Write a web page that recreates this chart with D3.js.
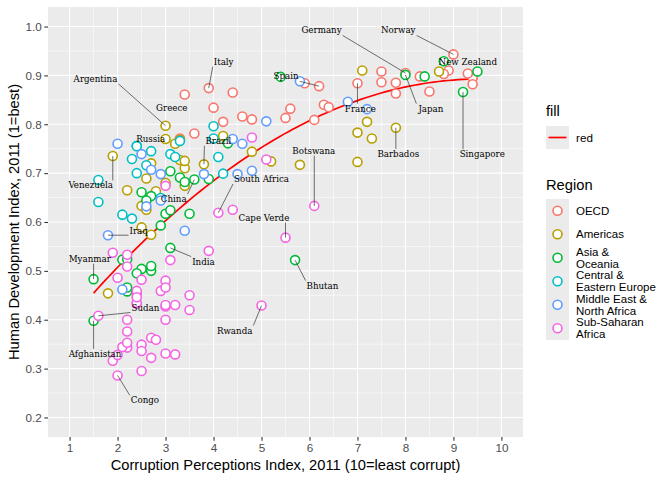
<!DOCTYPE html>
<html>
<head>
<meta charset="utf-8">
<script src="https://cdn.jsdelivr.net/npm/d3@7"></script>
<style>
  body { margin: 0; background: #fff; }
  text { font-family: "Liberation Sans", Arial, sans-serif; }
</style>
</head>
<body>
<div id="chart"></div>
<script>
// [country, CPI 2011, HDI 2011] per region
const oecd = [
  ["Austria", 7.8, 0.885], ["Belgium", 7.5, 0.886], ["Britain", 7.8, 0.863], ["Bulgaria", 3.3, 0.771],
  ["Cyprus", 6.3, 0.840], ["Czech Republic", 4.4, 0.865], ["Denmark", 9.4, 0.895], ["Estonia", 6.4, 0.835],
  ["Finland", 9.4, 0.882], ["France", 7.0, 0.884], ["Germany", 8.0, 0.905], ["Greece", 3.4, 0.861],
  ["Hungary", 4.6, 0.816], ["Iceland", 8.3, 0.898], ["Ireland", 7.5, 0.908], ["Italy", 3.9, 0.874],
  ["Latvia", 4.2, 0.805], ["Lithuania", 4.8, 0.810], ["Luxembourg", 8.5, 0.867], ["Malta", 5.6, 0.832],
  ["Netherlands", 8.9, 0.910], ["Norway", 9.0, 0.943], ["Poland", 5.5, 0.813], ["Portugal", 6.1, 0.809],
  ["Romania", 3.6, 0.781], ["Slovakia", 4.0, 0.834], ["Slovenia", 5.9, 0.884], ["Spain", 6.2, 0.878],
  ["Sweden", 9.3, 0.904], ["Switzerland", 8.8, 0.903]
];
const americas = [
  ["Argentina", 3.0, 0.797], ["Bahamas", 7.3, 0.771], ["Barbados", 7.8, 0.793], ["Bolivia", 2.8, 0.663],
  ["Brazil", 3.8, 0.718], ["Canada", 8.7, 0.908], ["Chile", 7.2, 0.805], ["Colombia", 3.4, 0.710],
  ["Costa Rica", 4.8, 0.744], ["Cuba", 4.2, 0.776], ["Dominica", 5.2, 0.724], ["Dominican Republic", 2.6, 0.689],
  ["Ecuador", 2.7, 0.720], ["El Salvador", 3.4, 0.674], ["Guatemala", 2.7, 0.574], ["Guyana", 2.5, 0.633],
  ["Haiti", 1.8, 0.454], ["Honduras", 2.6, 0.625], ["Jamaica", 3.3, 0.727], ["Mexico", 3.0, 0.770],
  ["Nicaragua", 2.5, 0.589], ["Panama", 3.3, 0.768], ["Paraguay", 2.2, 0.665], ["Peru", 3.4, 0.725],
  ["Saint Lucia", 7.0, 0.723], ["Saint Vincent", 5.8, 0.717], ["Suriname", 3.0, 0.680],
  ["Trinidad and Tobago", 3.2, 0.760], ["United States", 7.1, 0.910], ["Uruguay", 7.0, 0.783],
  ["Venezuela", 1.9, 0.735]
];
const asiaOceania = [
  ["Afghanistan", 1.5, 0.398], ["Australia", 8.8, 0.929], ["Bangladesh", 2.7, 0.500], ["Bhutan", 5.7, 0.522],
  ["Cambodia", 2.1, 0.523], ["China", 3.6, 0.687], ["Hong Kong", 8.4, 0.898], ["India", 3.1, 0.547],
  ["Indonesia", 3.0, 0.617], ["Japan", 8.0, 0.901], ["Kiribati", 3.1, 0.624], ["Laos", 2.2, 0.524],
  ["Malaysia", 4.3, 0.761], ["Maldives", 2.5, 0.661], ["Mongolia", 2.7, 0.653], ["Myanmar", 1.5, 0.483],
  ["Nepal", 2.2, 0.458], ["New Zealand", 9.5, 0.908], ["Pakistan", 2.5, 0.504], ["Papua New Guinea", 2.2, 0.466],
  ["Philippines", 2.6, 0.644], ["Samoa", 3.9, 0.688], ["Singapore", 9.2, 0.866], ["Solomon Islands", 2.7, 0.510],
  ["South Korea", 5.4, 0.897], ["Sri Lanka", 3.3, 0.691], ["Thailand", 3.4, 0.682], ["Timor-Leste", 2.4, 0.495],
  ["Tonga", 3.1, 0.704], ["Vanuatu", 3.5, 0.617], ["Vietnam", 2.9, 0.593]
];
const centralEastEurope = [
  ["Albania", 3.1, 0.739], ["Armenia", 2.6, 0.716], ["Azerbaijan", 2.4, 0.700], ["Belarus", 2.4, 0.756],
  ["Bosnia and Herzegovina", 3.2, 0.733], ["Croatia", 4.0, 0.796], ["Georgia", 4.1, 0.733], ["Kazakhstan", 2.7, 0.745],
  ["Kyrgyzstan", 2.1, 0.615], ["Moldova", 2.9, 0.649], ["Montenegro", 4.0, 0.771], ["Russia", 2.4, 0.755],
  ["Serbia", 3.3, 0.766], ["Tajikistan", 2.3, 0.607], ["Turkey", 4.2, 0.699], ["Turkmenistan", 1.6, 0.686],
  ["Ukraine", 2.3, 0.729], ["Uzbekistan", 1.6, 0.641]
];
const middleEastNorthAfrica = [
  ["Algeria", 2.9, 0.698], ["Bahrain", 5.1, 0.806], ["Egypt", 2.9, 0.644], ["Iran", 2.7, 0.707],
  ["Iraq", 1.8, 0.573], ["Israel", 5.8, 0.888], ["Jordan", 4.5, 0.698], ["Kuwait", 4.6, 0.760],
  ["Lebanon", 2.5, 0.739], ["Libya", 2.0, 0.760], ["Morocco", 3.4, 0.582], ["Oman", 4.8, 0.705],
  ["Qatar", 7.2, 0.831], ["Saudi Arabia", 4.4, 0.770], ["Syria", 2.6, 0.632], ["Tunisia", 3.8, 0.698],
  ["United Arab Emirates", 6.8, 0.846], ["Yemen", 2.1, 0.462]
];
const subSaharanAfrica = [
  ["Angola", 2.0, 0.486], ["Benin", 3.0, 0.427], ["Botswana", 6.1, 0.633], ["Burkina Faso", 3.0, 0.331],
  ["Burundi", 1.9, 0.316], ["Cameroon", 2.5, 0.482], ["Cape Verde", 5.5, 0.568], ["Central African Republic", 2.2, 0.343],
  ["Chad", 2.0, 0.328], ["Comoros", 2.4, 0.433], ["Republic of Congo", 2.2, 0.533], ["Cote d'Ivoire", 2.2, 0.400],
  ["Congo", 2.0, 0.286], ["Djibouti", 3.0, 0.430], ["Equatorial Guinea", 1.9, 0.537], ["Eritrea", 2.5, 0.349],
  ["Ethiopia", 2.7, 0.363], ["Gabon", 3.0, 0.674], ["Gambia", 3.5, 0.420], ["Ghana", 3.9, 0.541],
  ["Guinea", 2.1, 0.344], ["Guinea-Bissau", 2.2, 0.353], ["Kenya", 2.2, 0.509], ["Lesotho", 3.5, 0.450],
  ["Liberia", 3.2, 0.329], ["Madagascar", 3.0, 0.480], ["Malawi", 3.0, 0.400], ["Mali", 2.8, 0.359],
  ["Mauritania", 2.4, 0.453], ["Mauritius", 5.1, 0.728], ["Mozambique", 2.7, 0.322], ["Namibia", 4.4, 0.625],
  ["Niger", 2.5, 0.295], ["Nigeria", 2.4, 0.459], ["Rwanda", 5.0, 0.429], ["Senegal", 2.9, 0.459],
  ["Seychelles", 4.8, 0.773], ["Sierra Leone", 2.5, 0.336], ["South Africa", 4.1, 0.619], ["Sudan", 1.6, 0.408],
  ["Swaziland", 3.1, 0.522], ["Tanzania", 3.0, 0.466], ["Togo", 2.4, 0.435], ["Uganda", 2.4, 0.446],
  ["Zambia", 3.2, 0.430], ["Zimbabwe", 2.2, 0.376]
];

const regionNames = ["OECD", "Americas", "Asia &\nOceania", "Central &\nEastern Europe",
                     "Middle East &\nNorth Africa", "Sub-Saharan\nAfrica"];
const regionColors = ["#F8766D", "#B79F00", "#00BA38", "#00BFC4", "#619CFF", "#F564E3"];

// labelled countries and where ggrepel put the label (data units)
const labelled = ["Argentina", "Greece", "Italy", "Russia", "Brazil", "Venezuela", "China", "South Africa",
  "Cape Verde", "Iraq", "India", "Myanmar", "Sudan", "Afghanistan", "Congo", "Rwanda", "Bhutan",
  "Botswana", "Spain", "Germany", "Norway", "New Zealand", "Japan", "France", "Barbados", "Singapore"];
const labelCpi = [1.54, 3.13, 4.21, 2.69, 4.10, 1.44, 3.17, 5.00, 5.05, 2.44, 3.79, 1.42, 2.58, 1.53,
  2.57, 4.44, 6.27, 6.09, 5.51, 6.25, 7.85, 9.30, 8.53, 7.06, 7.85, 9.60];
const labelHdi = [0.893, 0.834, 0.928, 0.770, 0.766, 0.675, 0.647, 0.688, 0.609, 0.581, 0.519, 0.525,
  0.425, 0.330, 0.235, 0.378, 0.470, 0.746, 0.898, 0.992, 0.992, 0.927, 0.832, 0.832, 0.739, 0.739];

const xTicks = [1, 2, 3, 4, 5, 6, 7, 8, 9, 10];
const yTicks = [0.2, 0.3, 0.4, 0.5, 0.6, 0.7, 0.8, 0.9, 1.0];

const W = 672, H = 480;
const panel = { left: 48, right: 523, top: 7, bottom: 437 };

const svg = d3.select("#chart").append("svg")
  .attr("width", W).attr("height", H);

const x = d3.scaleLinear().domain([0.55, 10.45]).range([panel.left, panel.right]);
const y = d3.scaleLinear().domain([0.16, 1.04]).range([panel.bottom, panel.top]);

// panel + grid
svg.append("rect")
  .attr("x", panel.left).attr("y", panel.top)
  .attr("width", panel.right - panel.left).attr("height", panel.bottom - panel.top)
  .attr("fill", "#EBEBEB");

const xMinor = xTicks.slice(0, -1).map(d => d + 0.5);
const yMinor = yTicks.slice(0, -1).map(d => d + 0.05);
const grid = svg.append("g");
grid.selectAll(".xm").data(xMinor).enter().append("line")
  .attr("x1", d => x(d)).attr("x2", d => x(d)).attr("y1", panel.top).attr("y2", panel.bottom)
  .attr("stroke", "#fff").attr("stroke-width", 0.55);
grid.selectAll(".ym").data(yMinor).enter().append("line")
  .attr("y1", d => y(d)).attr("y2", d => y(d)).attr("x1", panel.left).attr("x2", panel.right)
  .attr("stroke", "#fff").attr("stroke-width", 0.55);
grid.selectAll(".xM").data(xTicks).enter().append("line")
  .attr("x1", d => x(d)).attr("x2", d => x(d)).attr("y1", panel.top).attr("y2", panel.bottom)
  .attr("stroke", "#fff").attr("stroke-width", 1.1);
grid.selectAll(".yM").data(yTicks).enter().append("line")
  .attr("y1", d => y(d)).attr("y2", d => y(d)).attr("x1", panel.left).attr("x2", panel.right)
  .attr("stroke", "#fff").attr("stroke-width", 1.1);

// axes
const xAxis = svg.append("g")
  .attr("transform", `translate(0,${panel.bottom})`)
  .call(d3.axisBottom(x).tickValues(xTicks).tickFormat(d3.format("d")).tickSize(3.7).tickPadding(2.5));
const yAxis = svg.append("g")
  .attr("transform", `translate(${panel.left},0)`)
  .call(d3.axisLeft(y).tickValues(yTicks).tickFormat(d3.format(".1f")).tickSize(3.7).tickPadding(2.5));
[xAxis, yAxis].forEach(a => {
  a.select(".domain").remove();
  a.selectAll(".tick line").attr("stroke", "#333333").attr("stroke-width", 1.07);
  a.selectAll(".tick text").attr("fill", "#4D4D4D").style("font-size", "11.7px")
    .style("font-family", "'Liberation Sans', Arial, sans-serif");
});

svg.append("text")
  .attr("x", (panel.left + panel.right) / 2).attr("y", 470)
  .attr("text-anchor", "middle").style("font-size", "14.7px").attr("fill", "#000")
  .text("Corruption Perceptions Index, 2011 (10=least corrupt)");
svg.append("text")
  .attr("transform", `translate(19,${(panel.top + panel.bottom) / 2}) rotate(-90)`)
  .attr("text-anchor", "middle").style("font-size", "14.7px").attr("fill", "#000")
  .text("Human Development Index, 2011 (1=best)");

// all points
const regions = [oecd, americas, asiaOceania, centralEastEurope, middleEastNorthAfrica, subSaharanAfrica];
const points = [];
regions.forEach((arr, i) => arr.forEach(d => points.push({ name: d[0], cpi: d[1], hdi: d[2], r: i })));

// red trend line: lm(HDI ~ poly(CPI, 2)), evaluated at 80 points like geom_smooth
function det3(m) {
  return m[0][0] * (m[1][1] * m[2][2] - m[1][2] * m[2][1])
       - m[0][1] * (m[1][0] * m[2][2] - m[1][2] * m[2][0])
       + m[0][2] * (m[1][0] * m[2][1] - m[1][1] * m[2][0]);
}
const basis = v => [1, v, v * v];
const S = [[0, 0, 0], [0, 0, 0], [0, 0, 0]], T = [0, 0, 0];
points.forEach(p => {
  const b = basis(p.cpi);
  for (let j = 0; j < 3; j++) {
    T[j] += b[j] * p.hdi;
    for (let k = 0; k < 3; k++) S[j][k] += b[j] * b[k];
  }
});
const D = det3(S);
const coef = [0, 1, 2].map(c => det3(S.map((row, j) => row.map((v, k) => (k === c ? T[j] : v)))) / D);
const xr = d3.extent(points, p => p.cpi);
const fit = d3.range(80).map(i => {
  const c = xr[0] + (xr[1] - xr[0]) * i / 79;
  const b = basis(c);
  return [c, coef[0] * b[0] + coef[1] * b[1] + coef[2] * b[2]];
});
svg.append("path")
  .attr("d", d3.line().x(d => x(d[0])).y(d => y(d[1]))(fit))
  .attr("fill", "none").attr("stroke", "red").attr("stroke-width", 1.7);

// labels with ggrepel-style segments
const byName = new Map(points.map(p => [p.name, p]));
const labelFont = 8.7;
const ptG = svg.append("g");
const segG = svg.append("g");
const lblG = svg.append("g");

ptG.selectAll("circle").data(points).enter().append("circle")
  .attr("cx", d => x(d.cpi)).attr("cy", d => y(d.hdi)).attr("r", 4.5)
  .attr("fill", "#fff").attr("stroke", d => regionColors[d.r]).attr("stroke-width", 1.6);

labelled.forEach((name, i) => {
  const p = byName.get(name);
  const lx0 = x(labelCpi[i]), ly0 = y(labelHdi[i]);
  const t = lblG.append("text")
    .attr("x", lx0).attr("y", ly0).attr("dy", "0.35em")
    .attr("text-anchor", "middle")
    .style("font-family", "'DejaVu Serif', serif").style("font-size", labelFont + "px")
    .attr("fill", "#000").text(name);
  const bb = t.node().getBBox();
  const px = x(p.cpi), py = y(p.hdi);
  const box = { x0: bb.x - 1, x1: bb.x + bb.width + 1, y0: ly0 - 5, y1: ly0 + 5 };
  const sx = Math.max(box.x0, Math.min(box.x1, px));
  const sy = Math.max(box.y0, Math.min(box.y1, py));
  if (Math.hypot(px - sx, py - sy) > 10) {
    segG.append("line")
      .attr("x1", sx).attr("y1", sy).attr("x2", px).attr("y2", py)
      .attr("stroke", "#333").attr("stroke-width", 0.7);
  }
});

// legends
const lg = svg.append("g");
lg.append("text").attr("x", 546).attr("y", 116).style("font-size", "14.7px").text("fill");
lg.append("rect").attr("x", 546).attr("y", 126).attr("width", 23).attr("height", 23).attr("fill", "#EBEBEB");
lg.append("line").attr("x1", 548.5).attr("x2", 566.5).attr("y1", 137.5).attr("y2", 137.5)
  .attr("stroke", "red").attr("stroke-width", 1.7);
lg.append("text").attr("x", 576).attr("y", 137.5).attr("dy", "0.35em").style("font-size", "11.7px").text("red");

lg.append("text").attr("x", 546).attr("y", 190).style("font-size", "14.7px").text("Region");
const keyH = 23.5, keyTop = 199;
lg.append("rect").attr("x", 546).attr("y", keyTop).attr("width", 23)
  .attr("height", keyH * regionNames.length).attr("fill", "#EBEBEB");
regionNames.forEach((nm, i) => {
  const cy = keyTop + keyH * (i + 0.5);
  lg.append("circle").attr("cx", 557.5).attr("cy", cy).attr("r", 4.5)
    .attr("fill", "#fff").attr("stroke", regionColors[i]).attr("stroke-width", 1.6);
  const lines = nm.split("\n");
  const t = lg.append("text").attr("x", 576).style("font-size", "11.5px");
  lines.forEach((ln, j) => {
    t.append("tspan").attr("x", 576)
      .attr("y", cy + (j - (lines.length - 1) / 2) * 11.75)
      .attr("dy", "0.35em").text(ln);
  });
});
</script>
</body>
</html>
